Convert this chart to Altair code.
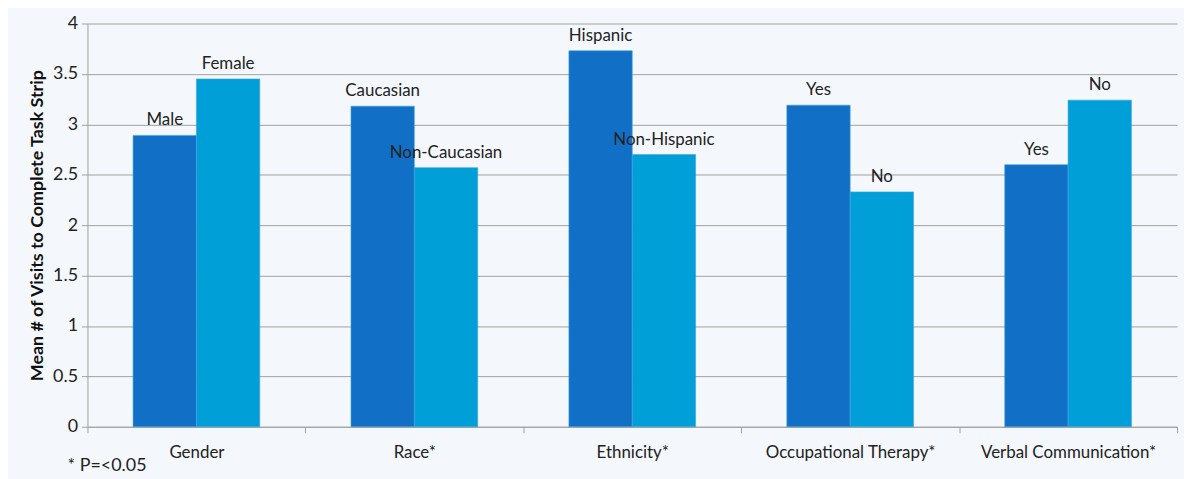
import altair as alt
import pandas as pd

groups = ["Gender", "Race*", "Ethnicity*", "Occupational Therapy*", "Verbal Communication*"]
first_labels = ["Male", "Caucasian", "Hispanic", "Yes", "Yes"]
second_labels = ["Female", "Non-Caucasian", "Non-Hispanic", "No", "No"]
first_values = [2.89, 3.18, 3.73, 3.19, 2.60]
second_values = [3.45, 2.57, 2.70, 2.33, 3.24]
y_title = "Mean # of Visits to Complete Task Strip"
footnote = "* P=<0.05"

rows = []
for g, l1, l2, v1, v2 in zip(groups, first_labels, second_labels, first_values, second_values):
    rows.append({"group": g, "series": "a", "label": l1, "value": v1})
    rows.append({"group": g, "series": "b", "label": l2, "value": v2})
df = pd.DataFrame(rows)

FONT = "Lato"

base = alt.Chart(df).encode(
    x=alt.X("group:N", sort=groups,
            scale=alt.Scale(paddingInner=0, paddingOuter=0),
            axis=alt.Axis(title=None, tickBand="extent", labelAngle=0, labelFontSize=17,
                          labelFont=FONT, labelColor="#222", tickSize=6, labelPadding=12,
                          domainColor="#a0a0a0", tickColor="#a0a0a0", grid=False)),
    xOffset=alt.XOffset("series:N", scale=alt.Scale(paddingInner=0, paddingOuter=0.72)),
    y=alt.Y("value:Q", scale=alt.Scale(domain=[0, 4], nice=False),
            axis=alt.Axis(title=y_title, values=[0, 0.5, 1, 1.5, 2, 2.5, 3, 3.5, 4],
                          format="~g", labelFontSize=18, labelFont=FONT, labelColor="#222",
                          titleFont=FONT, titleFontSize=18, titleFontWeight="bold",
                          titleColor="#111", titlePadding=6,
                          tickSize=6, labelPadding=4, gridColor="#a0a0a0",
                          domainColor="#a0a0a0", tickColor="#a0a0a0")),
)

bars = base.mark_bar(stroke="#3fa0e0", strokeWidth=0.6).encode(
    color=alt.Color("series:N", scale=alt.Scale(domain=["a", "b"], range=["#1170C6", "#009FD8"]),
                    legend=None)
)

labels = base.mark_text(baseline="bottom", dy=-6, fontSize=17, font=FONT, color="#222").encode(
    text="label:N"
)

foot = alt.Chart(pd.DataFrame({"t": [footnote]})).mark_text(
    align="left", baseline="middle", fontSize=18, font=FONT, color="#222"
).encode(x=alt.value(-20), y=alt.value(446), text="t:N")

chart = alt.layer(bars, labels, foot).properties(
    width=1097, height=406,
    autosize=alt.AutoSizeParams(type="none"),
    padding={"left": 80, "top": 14, "right": 7, "bottom": 57},
    background="#f4f8fc",
).configure_view(stroke=None)

chart.save("out.html", embed_options={"renderer": "svg", "actions": False})
